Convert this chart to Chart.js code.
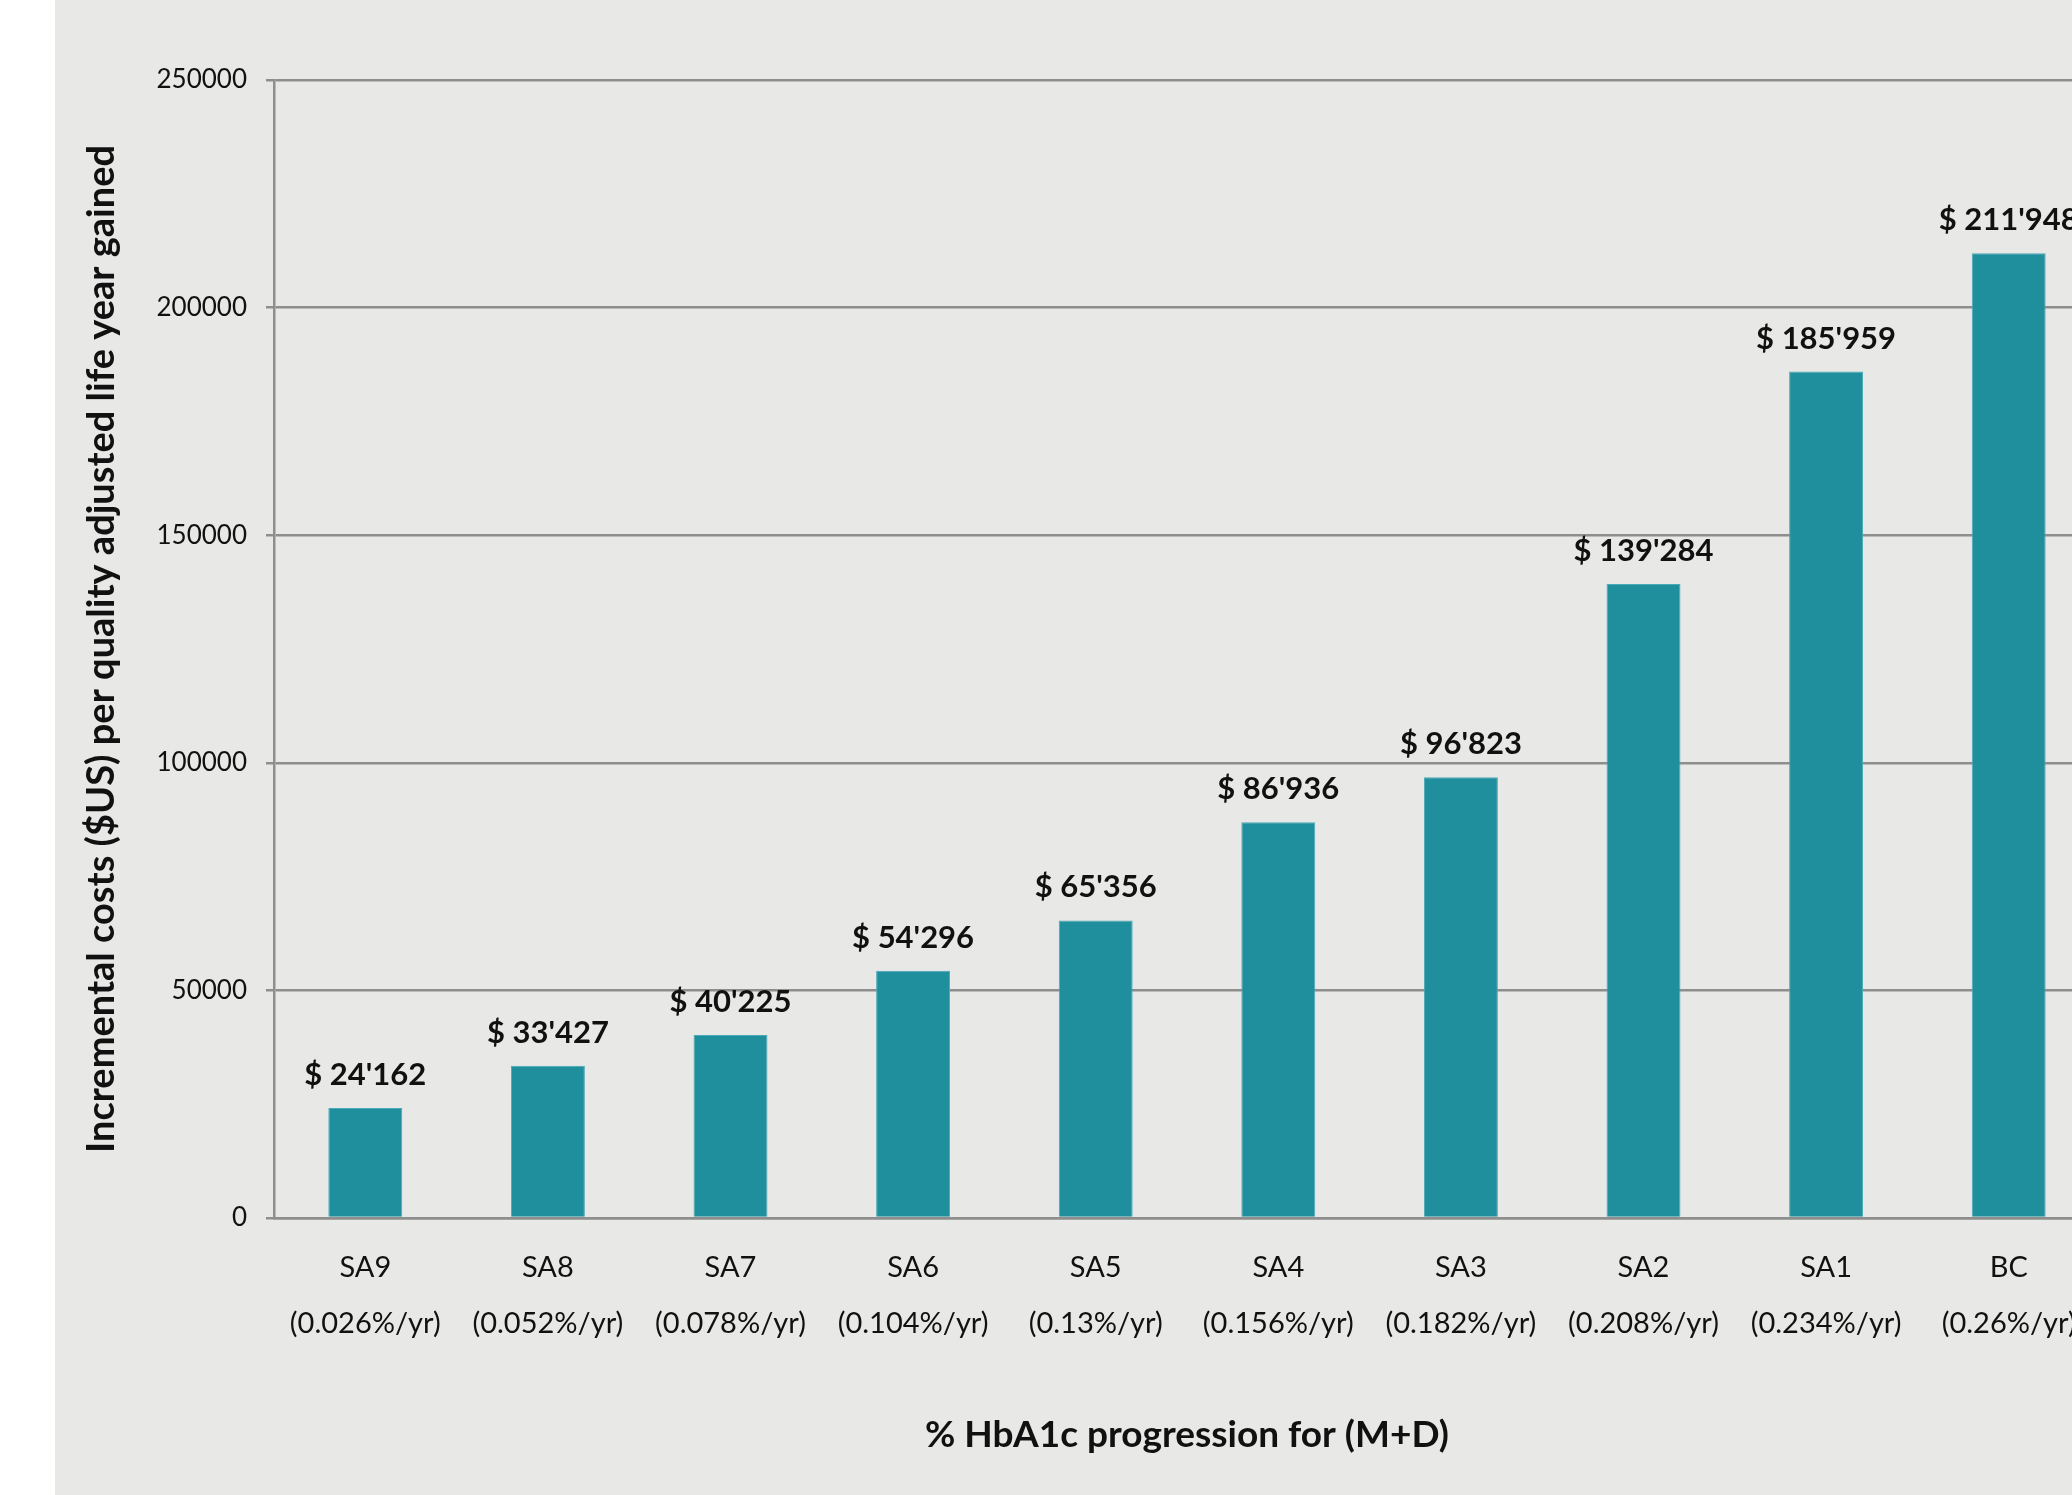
<!DOCTYPE html>
<html lang="en">
<head>
  <meta charset="UTF-8">
  <title>Incremental costs per QALY gained</title>
  <script src="https://cdn.jsdelivr.net/npm/chart.js"></script>
  <style>
    body {margin: 0; background: #ffffff; overflow: hidden; width: 2072px; height: 1495px; position: relative;}
    .panel {position: absolute; left: 55px; top: 0; width: 2017px; height: 1495px; background: #e8e9e7;}
    #barChart {position: absolute; left: 0; top: 0;}
  </style>
</head>
<body>

<div class="panel"></div>
<canvas id="barChart" width="2110" height="1495"></canvas>

<script>
  // data
  const scenarios = ['SA9', 'SA8', 'SA7', 'SA6', 'SA5', 'SA4', 'SA3', 'SA2', 'SA1', 'BC'];
  const progression = ['(0.026%/yr)', '(0.052%/yr)', '(0.078%/yr)', '(0.104%/yr)', '(0.13%/yr)',
                       '(0.156%/yr)', '(0.182%/yr)', '(0.208%/yr)', '(0.234%/yr)', '(0.26%/yr)'];
  const costPerQaly = [24162, 33427, 40225, 54296, 65356, 86936, 96823, 139284, 185959, 211948];
  const yTicks = [0, 50000, 100000, 150000, 200000, 250000];

  const fontName = 'Lato, "Open Sans", sans-serif';
  const gridGray = '#8e8e8e';

  // "$ 24'162" style labels above bars
  const valueLabels = {
    id: 'valueLabels',
    afterDatasetsDraw(chart) {
      const ctx = chart.ctx;
      const meta = chart.getDatasetMeta(0);
      ctx.save();
      ctx.font = 'bold 31px ' + fontName;
      ctx.fillStyle = '#111111';
      ctx.textAlign = 'center';
      ctx.textBaseline = 'alphabetic';
      meta.data.forEach((bar, i) => {
        const txt = '$ ' + costPerQaly[i].toLocaleString('en-US').replace(/,/g, "'");
        ctx.fillText(txt, bar.x, bar.y - 23);
      });
      ctx.restore();
    }
  };

  const ctx = document.getElementById('barChart').getContext('2d');
  new Chart(ctx, {
    type: 'bar',
    data: {
      labels: scenarios.map((s, i) => [s, progression[i]]),
      datasets: [{
        data: costPerQaly,
        backgroundColor: '#1f8f9e',
        borderColor: '#4aa9b6',
        borderWidth: 1,
        barPercentage: 0.405,
        categoryPercentage: 1
      }]
    },
    options: {
      responsive: false,
      animation: false,
      devicePixelRatio: 1,
      layout: { padding: { left: 0, right: 10, top: 80, bottom: 0 } },
      plugins: {
        legend: { display: false },
        tooltip: { enabled: false }
      },
      scales: {
        x: {
          afterFit: s => { s.height = 277; },
          grid: { display: false, drawTicks: false },
          border: { display: true, color: gridGray, width: 2.5 },
          ticks: {
            padding: 22,
            color: '#111111',
            font: { family: fontName, size: 29, lineHeight: 1.93 },
            maxRotation: 0,
            autoSkip: false
          },
          title: {
            display: true,
            text: '% HbA1c progression for (M+D)',
            color: '#111111',
            font: { family: fontName, size: 37, weight: 'bold', lineHeight: 1.2 },
            padding: { top: 0, bottom: 38 }
          }
        },
        y: {
          min: 0,
          max: 250000,
          afterFit: s => { s.width = 274; },
          afterBuildTicks: s => { s.ticks = yTicks.map(v => ({ value: v })); },
          grid: { color: gridGray, lineWidth: 2.5, tickLength: 8 },
          border: { display: true, color: gridGray, width: 2.5 },
          ticks: {
            padding: 19,
            color: '#111111',
            font: { family: fontName, size: 26 },
            callback: v => String(v)
          },
          title: {
            display: true,
            text: 'Incremental costs ($US) per quality adjusted life year gained',
            color: '#111111',
            font: { family: fontName, size: 38, weight: 'bold', lineHeight: 1.2 },
            padding: { top: 79, bottom: 0 }
          }
        }
      }
    },
    plugins: [valueLabels]
  });
</script>

</body>
</html>
